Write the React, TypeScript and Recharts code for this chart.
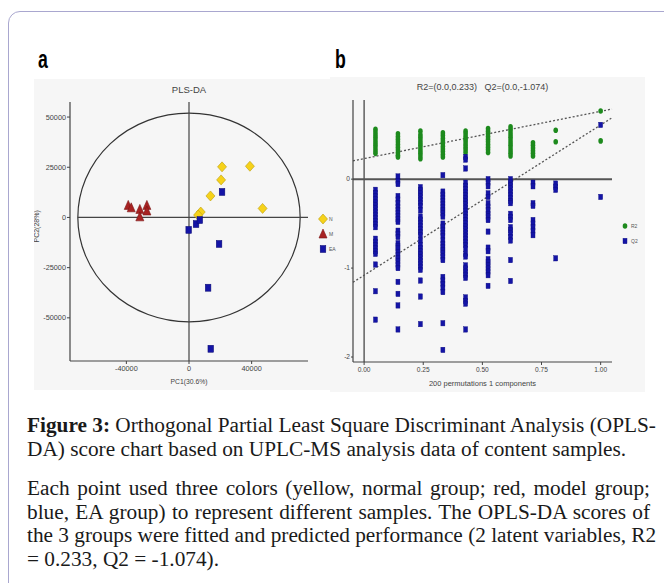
import { ScatterChart, Scatter, XAxis, YAxis, ReferenceLine, ReferenceArea } from "recharts";

// panel a: PLS-DA scores
const N_X = [21100, 38900, 20500, 13700, 47000, 7500, 5800];
const N_Y = [25200, 25500, 18700, 10700, 4500, 2700, 1200];
const M_X = [-38800, -36900, -31400, -31400, -26900, -26900];
const M_Y = [6000, 4800, 4000, 300, 6000, 3200];
const EA_X = [21100, 19200, 12200, 13900, -200, 4500, 6900];
const EA_Y = [12700, -13200, -35000, -65400, -6200, -3300, -1300];
const A_X_TICKS = [-40000, 0, 40000];
const A_Y_TICKS = [50000, 25000, 0, -25000, -50000];
const ELLIPSE_RX = 71000;
const ELLIPSE_RY = 52000;

// panel b: permutation test
const PERM_X = [0.048, 0.143, 0.238, 0.333, 0.429, 0.524, 0.619, 0.714, 0.81, 1.0];
const R2_VALUES = [
  [0.56, 0.53, 0.5, 0.47, 0.44, 0.41, 0.38, 0.35, 0.32, 0.29],
  [0.51, 0.48, 0.45, 0.42, 0.39, 0.36, 0.33, 0.3, 0.27, 0.25],
  [0.54, 0.5, 0.47, 0.44, 0.41, 0.38, 0.35, 0.32, 0.29, 0.26, 0.23],
  [0.52, 0.49, 0.46, 0.43, 0.4, 0.37, 0.34, 0.31, 0.28, 0.25],
  [0.54, 0.51, 0.48, 0.45, 0.42, 0.39, 0.36, 0.33, 0.3],
  [0.57, 0.54, 0.51, 0.48, 0.45, 0.42, 0.39, 0.36, 0.33, 0.3],
  [0.59, 0.56, 0.53, 0.5, 0.47, 0.44, 0.41, 0.38, 0.35, 0.32, 0.29, 0.26],
  [0.41, 0.38, 0.35, 0.32, 0.29, 0.26],
  [0.55, 0.42],
  [0.766, 0.43],
];
const Q2_VALUES = [
  [-0.12, -0.155, -0.19, -0.225, -0.26, -0.295, -0.33, -0.365, -0.4, -0.435, -0.47, -0.505, -0.54, -0.67, -0.705, -0.74, -0.775, -0.81, -0.84, -0.96, -1.26, -1.58],
  [0.03, -0.02, -0.055, -0.19, -0.23, -0.27, -0.31, -0.345, -0.38, -0.415, -0.45, -0.48, -0.58, -0.615, -0.65, -0.72, -0.755, -0.78, -0.82, -0.855, -0.89, -0.925, -0.96, -1.0, -1.155, -1.29, -1.42, -1.69],
  [-0.09, -0.125, -0.16, -0.195, -0.23, -0.265, -0.3, -0.35, -0.42, -0.455, -0.49, -0.525, -0.56, -0.595, -0.63, -0.69, -0.74, -0.775, -0.81, -0.845, -0.88, -0.915, -0.95, -0.985, -1.02, -1.14, -1.32, -1.63],
  [0.045, -0.14, -0.175, -0.21, -0.245, -0.28, -0.315, -0.35, -0.385, -0.42, -0.5, -0.535, -0.57, -0.605, -0.64, -0.69, -0.73, -0.765, -0.8, -0.835, -0.87, -0.91, -1.1, -1.14, -1.18, -1.22, -1.27, -1.62, -1.92],
  [0.25, 0.22, 0.12, -0.04, -0.075, -0.11, -0.145, -0.18, -0.215, -0.25, -0.285, -0.32, -0.355, -0.39, -0.425, -0.46, -0.495, -0.53, -0.565, -0.6, -0.635, -0.67, -0.705, -0.74, -0.78, -0.84, -0.87, -0.97, -1.005, -1.04, -1.075, -1.11, -1.33, -1.37, -1.4, -1.69],
  [0.0, -0.04, -0.08, -0.16, -0.2, -0.27, -0.31, -0.35, -0.39, -0.42, -0.46, -0.59, -0.77, -0.81, -0.9, -0.935, -0.97, -1.005, -1.04, -1.08, -1.2],
  [0.0, -0.035, -0.07, -0.105, -0.14, -0.175, -0.21, -0.245, -0.27, -0.39, -0.425, -0.46, -0.54, -0.575, -0.61, -0.65, -0.69, -0.91, -1.145],
  [-0.04, -0.08, -0.27, -0.3, -0.46, -0.5, -0.54, -0.58, -0.63],
  [-0.05, -0.085, -0.12, -0.89],
  [0.61, -0.2],
];
const R2_FIT = [{ x: -0.047, y: 0.206 }, { x: 1.048, y: 0.788 }];
const Q2_FIT = [{ x: -0.047, y: -1.16 }, { x: 1.048, y: 0.69 }];
const B_X_TICKS = [0, 0.25, 0.5, 0.75, 1];
const B_Y_TICKS = [0, -1, -2];

const CAPTION_1 = [
  "Orthogonal Partial Least Square Discriminant Analysis (OPLS-",
  "DA) score chart based on UPLC-MS analysis data of content samples.",
];
const CAPTION_2 = [
  "Each point used three colors (yellow, normal group; red, model group;",
  "blue, EA group) to represent different samples. The OPLS-DA scores of",
  "the 3 groups were fitted and predicted performance (2 latent variables, R2",
  "= 0.233, Q2 = -1.074).",
];

const FONT = "'Liberation Sans', Arial, sans-serif";
const SERIF = "'Liberation Serif', 'Times New Roman', serif";
const PANEL_BG = "#f6f6f6";
const YELLOW = "#f6d21a";
const RED = "#a82222";
const BLUE = "#1414a6";
const GREEN = "#1d8a1d";

const nData = N_X.map((x, i) => ({ x, y: N_Y[i] }));
const mData = M_X.map((x, i) => ({ x, y: M_Y[i] }));
const eaData = EA_X.map((x, i) => ({ x, y: EA_Y[i] }));
const r2Data = PERM_X.flatMap((x, i) => R2_VALUES[i].map((y) => ({ x, y })));
const q2Data = PERM_X.flatMap((x, i) => Q2_VALUES[i].map((y) => ({ x, y })));

const Diamond = ({ cx, cy }: any) => (
  <polygon
    points={`${cx},${cy - 5} ${cx + 4.5},${cy} ${cx},${cy + 5} ${cx - 4.5},${cy}`}
    fill={YELLOW}
    stroke="#b89c10"
    strokeWidth={0.6}
  />
);
const Triangle = ({ cx, cy }: any) => (
  <polygon
    points={`${cx},${cy - 5} ${cx + 4},${cy + 4} ${cx - 4},${cy + 4}`}
    fill={RED}
    stroke="#7a1414"
    strokeWidth={0.6}
  />
);
const BigSquare = ({ cx, cy }: any) => (
  <rect x={cx - 2.8} y={cy - 3.5} width={5.6} height={7} fill={BLUE} stroke="#0a0a70" strokeWidth={0.5} />
);
const SmallSquare = ({ cx, cy }: any) => (
  <rect x={cx - 2} y={cy - 2.7} width={4} height={5.4} fill={BLUE} stroke="#0c0c80" strokeWidth={0.4} />
);
const Dot = ({ cx, cy }: any) => <ellipse cx={cx} cy={cy} rx={2.3} ry={2.8} fill={GREEN} />;

const EllipseShape = ({ x, y, width, height }: any) => (
  <ellipse
    cx={x + width / 2}
    cy={y + height / 2}
    rx={width / 2}
    ry={height / 2}
    fill="none"
    stroke="#333"
    strokeWidth={1.2}
  />
);

const fmtA = (v: number) => String(v);
const fmtB = (v: number) => v.toFixed(2);

function LegendItem({ shape, label, size }: { shape: string; label: string; size: number }) {
  return (
    <div style={{ display: "flex", alignItems: "center", height: 15 }}>
      <svg width={10} height={12}>
        {shape === "diamond" && <Diamond cx={5} cy={6} />}
        {shape === "triangle" && <Triangle cx={5} cy={6} />}
        {shape === "square" && <BigSquare cx={5} cy={6} />}
        {shape === "dot" && <Dot cx={5} cy={6} />}
        {shape === "small" && <SmallSquare cx={5} cy={6} />}
      </svg>
      <span style={{ fontSize: size, color: "#555", marginLeft: 1, fontFamily: FONT }}>{label}</span>
    </div>
  );
}

export default function App() {
  const tickA = { fontSize: 7.3, fill: "#444", fontFamily: FONT };
  const tickB = { fontSize: 6.6, fill: "#444", fontFamily: FONT };
  const axisLine = { stroke: "#444", strokeWidth: 1.2 };
  const captionStyle = {
    position: "absolute" as const,
    left: 27,
    width: 623,
    fontFamily: SERIF,
    fontSize: 21.3,
    lineHeight: "22px",
    color: "#1a1a1a",
    textAlign: "justify" as const,
    whiteSpace: "nowrap" as const,
  };
  return (
    <div style={{ position: "absolute", left: 0, top: 0, width: 664, height: 583, overflow: "hidden", background: "#fff" }}>
      <div
        style={{
          position: "absolute",
          left: 8,
          top: 11,
          width: 700,
          height: 640,
          border: "1.5px solid #a9a7cf",
          borderRadius: 12,
        }}
      />
      <div style={{ position: "absolute", left: 38, top: 44, fontFamily: FONT, fontWeight: 700, fontSize: 26, transform: "scaleX(0.68)", transformOrigin: "left", lineHeight: "30px" }}>
        a
      </div>
      <div style={{ position: "absolute", left: 335, top: 44, fontFamily: FONT, fontWeight: 700, fontSize: 26, transform: "scaleX(0.68)", transformOrigin: "left", lineHeight: "30px" }}>
        b
      </div>

      {/* panel b */}
      <div style={{ position: "absolute", left: 330, top: 77, width: 315, height: 315, background: PANEL_BG }}>
        <div style={{ position: "absolute", left: 23, width: 259, top: 5, textAlign: "center", fontSize: 9, color: "#444", fontFamily: FONT, whiteSpace: "pre" }}>
          {"R2=(0.0,0.233)   Q2=(0.0,-1.074)"}
        </div>
        <ScatterChart width={315} height={315} margin={{ top: 23, right: 33, bottom: 0, left: 0 }}>
          <XAxis
            type="number"
            dataKey="x"
            domain={[-0.047, 1.048]}
            ticks={B_X_TICKS}
            tickFormatter={fmtB}
            tick={tickB}
            tickSize={3}
            tickMargin={2}
            height={30}
            axisLine={axisLine}
            tickLine={{ stroke: "#444" }}
            allowDataOverflow
            label={{ value: "200 permutations 1 components", position: "insideBottom", offset: 6, fontSize: 7.5, fill: "#444", fontFamily: FONT }}
          />
          <YAxis
            type="number"
            dataKey="y"
            domain={[-2.056, 0.89]}
            ticks={B_Y_TICKS}
            tick={tickB}
            tickSize={2}
            tickMargin={1}
            width={23}
            axisLine={axisLine}
            tickLine={{ stroke: "#444" }}
            allowDataOverflow
          />
          <ReferenceLine x={0} stroke="#555" strokeWidth={1.4} />
          <ReferenceLine y={0} stroke="#555" strokeWidth={2} />
          <Scatter data={r2Data} shape={Dot} isAnimationActive={false} />
          <Scatter data={q2Data} shape={SmallSquare} isAnimationActive={false} />
          <ReferenceLine segment={R2_FIT} stroke="#555" strokeWidth={1.3} strokeDasharray="2 2" />
          <ReferenceLine segment={Q2_FIT} stroke="#555" strokeWidth={1.3} strokeDasharray="2 2" />
        </ScatterChart>
        <div style={{ position: "absolute", left: 290, top: 141 }}>
          <LegendItem shape="dot" label="R2" size={5} />
          <LegendItem shape="small" label="Q2" size={5} />
        </div>
      </div>

      {/* panel a */}
      <div style={{ position: "absolute", left: 34, top: 79, width: 296, height: 311, background: PANEL_BG }}>
        <div style={{ position: "absolute", left: 0, width: 310, top: 5, textAlign: "center", fontSize: 9.5, color: "#444", fontFamily: FONT }}>
          PLS-DA
        </div>
        <ScatterChart width={296} height={311} margin={{ top: 23, right: 22, bottom: 0, left: 0 }}>
          <XAxis
            type="number"
            dataKey="x"
            domain={[-76000, 76000]}
            ticks={A_X_TICKS}
            tickFormatter={fmtA}
            tick={tickA}
            tickSize={3}
            tickMargin={2}
            height={29}
            axisLine={axisLine}
            tickLine={{ stroke: "#444" }}
            allowDataOverflow
            label={{ value: "PC1(30.6%)", position: "insideBottom", offset: 6, fontSize: 6.8, fill: "#444", fontFamily: FONT }}
          />
          <YAxis
            type="number"
            dataKey="y"
            domain={[-71500, 57500]}
            ticks={A_Y_TICKS}
            tickFormatter={fmtA}
            tick={tickA}
            tickSize={3}
            tickMargin={1}
            width={36}
            axisLine={axisLine}
            tickLine={{ stroke: "#444" }}
            allowDataOverflow
            label={{ value: "PC2(28%)", angle: -90, position: "insideLeft", offset: 3, dy: 11, fontSize: 7, fill: "#444", fontFamily: FONT }}
          />
          <ReferenceArea
            x1={-ELLIPSE_RX}
            x2={ELLIPSE_RX}
            y1={-ELLIPSE_RY}
            y2={ELLIPSE_RY}
            shape={EllipseShape}
          />
          <ReferenceLine x={0} stroke="#444" strokeWidth={1.2} />
          <ReferenceLine segment={[{ x: -ELLIPSE_RX, y: 0 }, { x: 76000, y: 0 }]} stroke="#444" strokeWidth={1.2} />
          <Scatter data={nData} shape={Diamond} isAnimationActive={false} />
          <Scatter data={mData} shape={Triangle} isAnimationActive={false} />
          <Scatter data={eaData} shape={BigSquare} isAnimationActive={false} />
        </ScatterChart>
        <div style={{ position: "absolute", left: 284, top: 132, zIndex: 2 }}>
          <LegendItem shape="diamond" label="N" size={5} />
          <LegendItem shape="triangle" label="M" size={5} />
          <LegendItem shape="square" label="EA" size={5} />
        </div>
      </div>

      {/* caption */}
      {CAPTION_1.map((line, i) => (
        <div
          key={"c1" + i}
          style={{
            ...captionStyle,
            top: 414 + i * 24,
            textAlignLast: i < CAPTION_1.length - 1 ? "justify" : "left",
          }}
        >
          {i === 0 && <b>Figure 3: </b>}
          {line}
        </div>
      ))}
      {CAPTION_2.map((line, i) => (
        <div
          key={"c2" + i}
          style={{
            ...captionStyle,
            top: 477 + i * 23.5,
            textAlignLast: i < CAPTION_2.length - 1 ? "justify" : "left",
          }}
        >
          {line}
        </div>
      ))}
    </div>
  );
}
